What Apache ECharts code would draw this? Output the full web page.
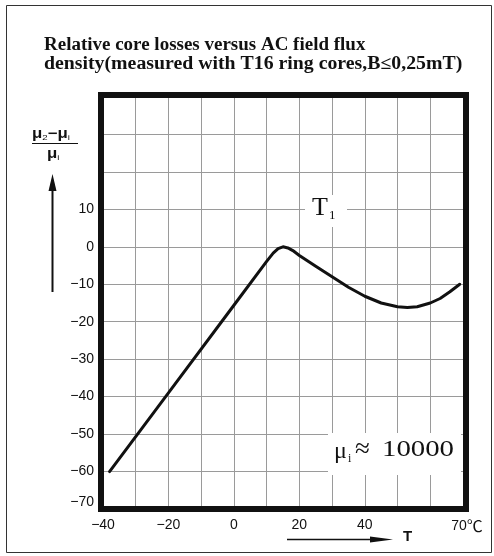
<!DOCTYPE html>
<html><head><meta charset="utf-8">
<script src="https://cdn.jsdelivr.net/npm/echarts@6/dist/echarts.min.js"></script>
<style>html,body{margin:0;padding:0;background:#fff}#c{width:494px;height:556px}</style>
</head><body><div id="c"></div>
<script>
// Data
var temperatureC = [-38, -20, 0, 10, 12, 13.5, 15, 16.5, 18, 20, 25, 30, 35, 40, 45, 50, 53, 56, 60, 63, 66, 69];
var relativeChange = [-60, -39, -15.6, -3.9, -1.7, -0.5, 0, -0.3, -1, -2.3, -5.2, -8, -10.8, -13.2, -15, -16, -16.2, -16, -15, -13.8, -12, -10];
var xTickLabels = [-40, -20, 0, 20, 40, 70];
var yTickLabels = [10, 0, -10, -20, -30, -40, -50, -60, -70];
var titleLines = ['Relative core losses versus AC field flux', 'density(measured with T16 ring cores,B\u22640,25mT)'];

var seriesData = temperatureC.map(function (t, i) { return [t, relativeChange[i]]; });
function minus(v) { return String(v).replace('-', '\u2212'); }

var chart = echarts.init(document.getElementById('c'), null, {renderer: 'canvas'});
chart.setOption({
  animation: false,
  backgroundColor: '#fff',
  grid: {left: 103, right: 31, top: 97, bottom: 47, show: false},
  xAxis: {
    type: 'value', min: -40, max: 70, interval: 10,
    axisLine: {show: false}, axisTick: {show: false},
    splitLine: {show: true, lineStyle: {color: '#9a9a9a', width: 1}},
    axisLabel: {
      margin: 9, color: '#111', fontFamily: 'Liberation Sans', fontSize: 14,
      formatter: function (v) {
        if (xTickLabels.indexOf(v) < 0) return '';
        if (v === 70) return '{e|70}{c|\u2103}';
        return minus(v);
      },
      rich: {
        e: {fontFamily: 'Liberation Sans', fontSize: 14, color: '#111', padding: [0, 0, 0, 8]},
        c: {fontFamily: 'Noto Sans CJK SC', fontSize: 16, color: '#111'}
      }
    }
  },
  yAxis: {
    type: 'value', min: -70, max: 40, interval: 10,
    axisLine: {show: false}, axisTick: {show: false},
    splitLine: {show: true, lineStyle: {color: '#9a9a9a', width: 1}},
    axisLabel: {
      margin: 9, color: '#111', fontFamily: 'Liberation Sans', fontSize: 14,
      formatter: function (v) {
        if (yTickLabels.indexOf(v) < 0) return '';
        if (v === -70) return '{b|' + minus(v) + '}';
        return minus(v);
      },
      rich: {b: {fontFamily: 'Liberation Sans', fontSize: 14, color: '#111', padding: [0, 0, 14, 0]}}
    }
  },
  series: [{
    type: 'line', data: seriesData, symbol: 'none', smooth: false,
    lineStyle: {color: '#111', width: 3, cap: 'round', join: 'round'}, z: 3
  }],
  graphic: [
    {type: 'rect', shape: {x: 6.5, y: 5.5, width: 485, height: 547}, style: {fill: 'none', stroke: '#333', lineWidth: 1}, z: 10},
    // plot frame
    {type: 'rect', shape: {x: 101, y: 95, width: 365, height: 414}, style: {fill: 'none', stroke: '#111', lineWidth: 6}, z: 20},
    {type: 'text', x: 44, y: 36, scaleX: 1.055, style: {text: titleLines[0], font: 'bold 18px "Liberation Serif"', fill: '#111'}, z: 10},
    {type: 'text', x: 44, y: 55, scaleX: 1.1, style: {text: titleLines[1], font: 'bold 18px "Liberation Serif"', fill: '#111'}, z: 10},
    // y-axis name (fraction)
    {type: 'text', x: 32, y: 127, scaleX: 1.2, z: 10, style: {
      text: '{m|\u03bc}{s|2}{m|\u2212\u03bc}{s|i}',
      rich: {m: {fontFamily: 'Liberation Sans', fontSize: 14, fontWeight: 'bold', lineHeight: 15, verticalAlign: 'middle', fill: '#111'},
             s: {fontFamily: 'Liberation Sans', fontSize: 8, lineHeight: 7, verticalAlign: 'bottom', fill: '#111'}}}},
    {type: 'line', shape: {x1: 32, y1: 143.5, x2: 78, y2: 143.5}, style: {stroke: '#111', lineWidth: 1}, z: 10},
    {type: 'text', x: 47, y: 147, scaleX: 1.2, z: 10, style: {
      text: '{m|\u03bc}{s|i}',
      rich: {m: {fontFamily: 'Liberation Sans', fontSize: 14, fontWeight: 'bold', lineHeight: 15, verticalAlign: 'middle', fill: '#111'},
             s: {fontFamily: 'Liberation Sans', fontSize: 8, lineHeight: 7, verticalAlign: 'bottom', fill: '#111'}}}},
    {type: 'line', shape: {x1: 52.5, y1: 292, x2: 52.5, y2: 186}, style: {stroke: '#111', lineWidth: 2}, z: 10},
    {type: 'polygon', shape: {points: [[52.5, 174], [48.5, 191], [56.5, 191]]}, style: {fill: '#111'}, z: 10},
    // x-axis arrow and name
    {type: 'line', shape: {x1: 287, y1: 539.5, x2: 378, y2: 539.5}, style: {stroke: '#111', lineWidth: 1.5}, z: 10},
    {type: 'polygon', shape: {points: [[393, 539.5], [370, 536.5], [370, 542.5]]}, style: {fill: '#111'}, z: 10},
    {type: 'text', x: 403, y: 529, style: {text: 'T', font: 'bold 15px "Liberation Sans"', fill: '#111'}, z: 10},
    // T1 annotation
    {type: 'rect', shape: {x: 305, y: 195, width: 42, height: 32}, style: {fill: '#fff'}, z: 9},
    {type: 'text', x: 312, y: 195, style: {text: 'T', font: '26px "Liberation Serif"', fill: '#111'}, z: 10},
    {type: 'text', x: 329, y: 209, style: {text: '1', font: '13px "Liberation Serif"', fill: '#111'}, z: 10},
    // mu_i ≈ 10000 annotation
    {type: 'rect', shape: {x: 328, y: 433, width: 133, height: 42}, style: {fill: '#fff'}, z: 9},
    {type: 'text', x: 334, y: 440, style: {text: '\u03bc', font: '24px "Liberation Serif"', fill: '#111'}, z: 10},
    {type: 'text', x: 348, y: 453, style: {text: 'i', font: '12px "Liberation Serif"', fill: '#111'}, z: 10},
    {type: 'text', x: 355, y: 436, style: {text: '\u2248', font: '27px "Liberation Serif"', fill: '#111'}, z: 10},
    {type: 'text', x: 382, y: 438, scaleX: 1.2, style: {text: '10000', font: '24px "Liberation Serif"', fill: '#111'}, z: 10}
  ]
});
</script></body></html>
